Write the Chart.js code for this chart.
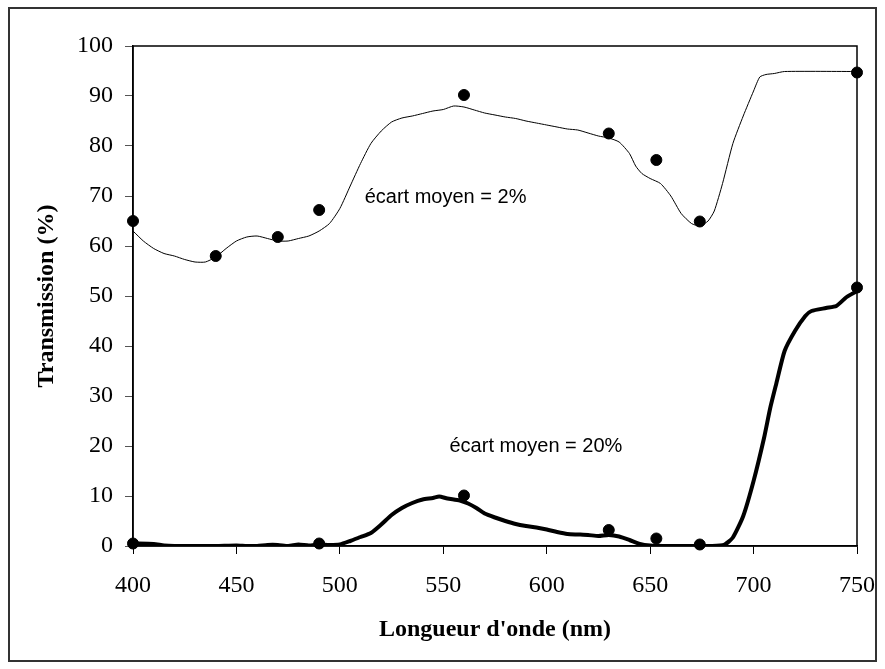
<!DOCTYPE html>
<html>
<head>
<meta charset="utf-8">
<script src="https://cdn.jsdelivr.net/npm/chart.js@4"></script>
<style>
  html, body { margin: 0; padding: 0; background: #fff; }
  #wrap { width: 885px; height: 669px; }
</style>
</head>
<body>
<div id="wrap"><canvas id="chart" width="885" height="669"></canvas></div>
<script>
// Measured transmission (dots)
const measuredNm = [400, 440, 470, 490, 560, 630, 653, 674, 750];
const measuredHigh = [65, 58, 61.8, 67.2, 90.2, 82.5, 77.2, 64.9, 94.7];
const measuredLowNm = [400, 490, 560, 630, 653, 674, 750];
const measuredLow = [0.5, 0.5, 10.1, 3.2, 1.5, 0.3, 51.7];

// Computed spectrum, thin curve
const highNm = [400, 405, 410, 415, 420, 425, 430, 435, 440, 445, 450, 455, 460, 465, 470, 475, 480, 485, 490, 495,
  500, 505, 510, 515, 520, 525, 530, 535, 540, 545, 550, 555, 560, 565, 570, 575, 580, 585, 590, 595,
  600, 605, 610, 615, 620, 625, 630, 635, 640, 643, 646, 650, 655, 660, 665, 670, 674, 678, 681, 685,
  690, 695, 700, 703, 706, 710, 715, 750];
const highValues = [63, 61, 59.5, 58.5, 58, 57.3, 56.8, 56.8, 57.8, 59.5, 61, 61.8, 62, 61.5, 61, 61, 61.5, 62, 63, 64.5,
  67.5, 72, 76.5, 80.5, 83, 84.8, 85.6, 86, 86.5, 87, 87.3, 88, 87.8, 87.2, 86.6, 86.2, 85.8, 85.5, 85, 84.6,
  84.2, 83.8, 83.4, 83.2, 82.6, 82, 81.6, 80.8, 78.5, 76, 74.5, 73.5, 72.5, 70, 66.5, 64.5, 64, 65, 67, 72.5,
  80.5, 86, 91, 93.8, 94.3, 94.5, 94.9, 94.9];

// Computed spectrum, thick curve
const lowNm = [400, 410, 415, 420, 430, 440, 450, 455, 460, 465, 470, 475, 480, 485, 490, 495, 500, 505, 510, 515,
  520, 525, 530, 535, 540, 545, 548, 552, 558, 562, 566, 570, 575, 580, 585, 590, 595, 600, 605, 610,
  615, 620, 625, 630, 635, 640, 645, 650, 660, 670, 680, 686, 690, 695, 700, 705, 708, 711, 715, 720,
  725, 728, 735, 740, 745, 750];
const lowValues = [0.5, 0.4, 0.1, 0, 0, 0, 0.1, 0, 0, 0.2, 0.2, 0, 0.3, 0.1, 0.3, 0.2, 0.3, 1, 1.8, 2.6,
  4.3, 6.2, 7.6, 8.6, 9.3, 9.6, 9.9, 9.5, 9.1, 8.5, 7.6, 6.5, 5.7, 5, 4.4, 4, 3.7, 3.3, 2.8, 2.4,
  2.3, 2.2, 2, 2.2, 1.9, 1.2, 0.4, 0.1, 0, 0, 0, 0.3, 1.7, 6, 13, 21.5, 27.5, 32.5, 39, 43,
  46, 47, 47.6, 48, 49.8, 51];

const xTicks = [400, 450, 500, 550, 600, 650, 700, 750];

const toXY = (xs, ys) => xs.map((x, i) => ({ x, y: ys[i] }));

const serif = 'Liberation Serif, Times New Roman, serif';
const sans = 'Liberation Sans, Arial, sans-serif';

// frame around plot area and around the whole picture
const framePlugin = {
    id: 'frames',
    afterDraw(chart) {
        const { ctx, chartArea } = chart;
        ctx.save();
        ctx.strokeStyle = '#000';
        ctx.lineWidth = 1.5;
        ctx.strokeRect(chartArea.left, chartArea.top, chartArea.right - chartArea.left, chartArea.bottom - chartArea.top);
        ctx.strokeStyle = '#333';
        ctx.lineWidth = 2;
        ctx.strokeRect(9, 8, 867, 653);
        ctx.restore();
    }
};

// "écart moyen" labels placed in data units
const notesPlugin = {
    id: 'notes',
    afterDatasetsDraw(chart, args, opts) {
        const { ctx, scales } = chart;
        ctx.save();
        ctx.fillStyle = '#000';
        ctx.font = '20px ' + sans;
        ctx.textAlign = 'left';
        ctx.textBaseline = 'middle';
        opts.items.forEach(n => {
            ctx.fillText(n.text, scales.x.getPixelForValue(n.x), scales.y.getPixelForValue(n.y));
        });
        ctx.restore();
    }
};

new Chart(document.getElementById('chart').getContext('2d'), {
    type: 'scatter',
    data: {
        datasets: [
            {
                data: toXY(measuredNm, measuredHigh),
                backgroundColor: '#000', borderColor: '#000',
                pointRadius: 5.5, showLine: false, order: 0, clip: false
            },
            {
                data: toXY(measuredLowNm, measuredLow),
                backgroundColor: '#000', borderColor: '#000',
                pointRadius: 5.5, showLine: false, order: 0, clip: false
            },
            {
                data: toXY(highNm, highValues),
                borderColor: '#000', borderWidth: 1, pointRadius: 0,
                showLine: true, tension: 0.2, order: 1
            },
            {
                data: toXY(lowNm, lowValues),
                borderColor: '#000', borderWidth: 4, pointRadius: 0,
                showLine: true, tension: 0.2, order: 1,
                borderCapStyle: 'round', borderJoinStyle: 'round'
            }
        ]
    },
    options: {
        responsive: false,
        animation: false,
        layout: { padding: { left: 0, top: 46, right: 28, bottom: 0 } },
        plugins: {
            legend: { display: false },
            tooltip: { enabled: false },
            notes: {
                items: [
                    { text: 'écart moyen = 2%', x: 512, y: 69.8 },
                    { text: 'écart moyen = 20%', x: 553, y: 20 }
                ]
            }
        },
        scales: {
            x: {
                type: 'linear', min: 400, max: 750,
                afterBuildTicks: s => { s.ticks = xTicks.map(v => ({ value: v })); },
                afterFit: s => { s.height = 123; s.paddingLeft = 0; s.paddingRight = 0; },
                grid: { drawOnChartArea: false, tickLength: 8, tickColor: '#000', tickWidth: 1 },
                border: { color: '#000', width: 1.5 },
                ticks: { color: '#000', padding: 17, maxRotation: 0, font: { family: serif, size: 24 } },
                title: {
                    display: true, text: "Longueur d'onde (nm)", color: '#000',
                    font: { family: serif, size: 24, weight: 'bold' },
                    padding: { top: 0, bottom: 24.6 }
                }
            },
            y: {
                min: 0, max: 100,
                afterFit: s => { s.width = 133; s.paddingTop = 0; s.paddingBottom = 0; },
                grid: { drawOnChartArea: false, tickLength: 8, tickColor: '#555', tickWidth: 1 },
                border: { color: '#000', width: 1.5 },
                ticks: { stepSize: 10, color: '#000', padding: 12, font: { family: serif, size: 24 } },
                title: {
                    display: true, text: 'Transmission (%)', color: '#000',
                    font: { family: serif, size: 24, weight: 'bold' },
                    padding: { top: 32.6, bottom: 0 }
                }
            }
        }
    },
    plugins: [framePlugin, notesPlugin]
});
</script>
</body>
</html>
